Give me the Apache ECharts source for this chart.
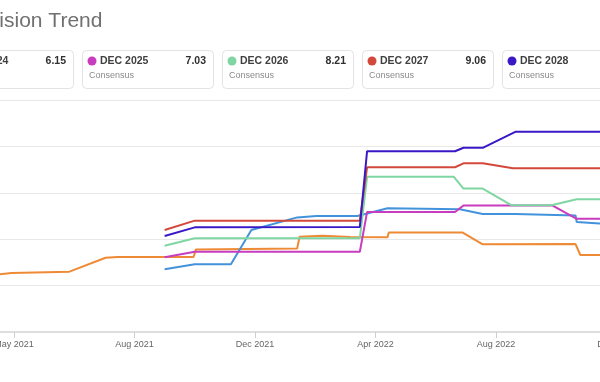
<!DOCTYPE html>
<html>
<head>
<meta charset="utf-8">
<script src="https://cdn.jsdelivr.net/npm/echarts@6/dist/echarts.min.js"></script>
<style>
html,body{margin:0;padding:0;background:#fff;}
#chart{width:600px;height:382px;}
</style>
</head>
<body>
<div id="chart"></div>
<script>
// x positions are in axis-label steps (0 = May 2021, 1 = Aug 2021, ...)
const xLabels = ['', 'May 2021', 'Aug 2021', 'Dec 2021', 'Apr 2022', 'Aug 2022', 'Dec 2022'];
const xLabelStart = -1;

const seriesNames = ['DEC 2023', 'DEC 2024', 'DEC 2025', 'DEC 2026', 'DEC 2027', 'DEC 2028'];
const seriesColors = ['#ee8a35', '#4393dc', '#c83cc0', '#7fd6a2', '#d2493b', '#3b18c6'];

const dec2023 = [[-0.12,2.49],[-0.02,2.54],[0.46,2.60],[0.76,3.20],[0.86,3.23],[1.49,3.23],[1.51,3.56],
  [2.35,3.60],[2.37,4.11],[2.56,4.15],[2.79,4.09],[3.10,4.08],[3.11,4.29],[3.72,4.29],[3.89,3.78],
  [4.66,3.79],[4.70,3.32],[5.00,3.32]];
const dec2024 = [[1.25,2.70],[1.50,2.92],[1.80,2.92],[1.97,4.40],[2.35,4.94],[2.51,5.00],[2.85,5.00],
  [3.10,5.33],[3.70,5.29],[3.89,5.09],[4.16,5.09],[4.66,5.02],[4.67,4.74],[4.86,4.68],[5.00,4.63]];
const dec2025 = [[1.25,3.22],[1.50,3.46],[2.87,3.46],[2.93,5.17],[3.66,5.17],[3.73,5.45],[4.47,5.45],
  [4.67,4.88],[5.00,4.88]];
const dec2026 = [[1.25,3.72],[1.50,4.04],[2.87,4.04],[2.93,6.69],[3.65,6.69],[3.73,6.18],[3.89,6.18],
  [4.13,5.46],[4.46,5.46],[4.67,5.72],[5.00,5.72]];
const dec2027 = [[1.25,4.40],[1.50,4.80],[2.87,4.80],[2.93,7.10],[3.66,7.10],[3.73,7.27],[3.89,7.27],
  [4.14,7.06],[5.00,7.06]];
const dec2028 = [[1.25,4.14],[1.50,4.51],[2.87,4.53],[2.93,7.79],[3.66,7.79],[3.73,7.94],[3.89,7.94],
  [4.16,8.63],[5.00,8.63]];
const seriesData = [dec2023, dec2024, dec2025, dec2026, dec2027, dec2028];

const cardNames = ['DEC 2024', 'DEC 2025', 'DEC 2026', 'DEC 2027', 'DEC 2028'];
const cardValues = ['6.15', '7.03', '8.21', '9.06', '10.31'];
const cardColors = ['#4393dc', '#c83cc0', '#7fd6a2', '#d2493b', '#3b18c6'];
const cardSubtitle = 'Consensus';
const titleText = 'Revision Trend';

const FONT = '"Liberation Sans", Arial, sans-serif';

const chart = echarts.init(document.getElementById('chart'), null, {renderer: 'canvas'});

const graphics = [{
  type: 'text', x: -38, y: 21,
  style: {text: titleText, fontSize: 21, fontFamily: FONT, fill: '#707070',
    align: 'left', verticalAlign: 'middle'}
}];
cardNames.forEach((name, i) => {
  const x0 = -58 + 140 * i;
  graphics.push({
    type: 'group', x: x0, y: 50,
    children: [
      {type: 'rect', shape: {x: 0.5, y: 0.5, width: 131, height: 38, r: 4},
        style: {fill: '#fff', stroke: '#e3e3e3', lineWidth: 1}},
      {type: 'circle', shape: {cx: 10, cy: 11, r: 4.5}, style: {fill: cardColors[i]}},
      {type: 'text', x: 18, y: 11, style: {text: name, fontSize: 10.5, fontWeight: 'bold',
        fontFamily: FONT, fill: '#404040', align: 'left', verticalAlign: 'middle'}},
      {type: 'text', x: 124, y: 11, style: {text: cardValues[i], fontSize: 10.5, fontWeight: 'bold',
        fontFamily: FONT, fill: '#303030', align: 'right', verticalAlign: 'middle'}},
      {type: 'text', x: 7, y: 26, style: {text: cardSubtitle, fontSize: 9,
        fontFamily: FONT, fill: '#8a8a8a', align: 'left', verticalAlign: 'middle'}}
    ]
  });
});

chart.setOption({
  animation: false,
  backgroundColor: '#fff',
  grid: {left: -106.5, right: -16.5, top: 100, bottom: 50, containLabel: false,
    outerBoundsMode: 'none'},
  xAxis: {
    type: 'value', min: -1, max: 5, interval: 1,
    axisLine: {show: true, onZero: false, lineStyle: {color: '#dedede', width: 2}},
    axisTick: {show: true, length: 6, lineStyle: {color: '#cfcfcf'}},
    axisLabel: {
      margin: 8, fontSize: 9, fontFamily: FONT, color: '#666',
      showMinLabel: true, showMaxLabel: true,
      formatter: v => xLabels[Math.round(v) - xLabelStart] || ''
    },
    splitLine: {show: false}
  },
  yAxis: {
    type: 'value', min: 0, max: 10, interval: 2,
    axisLine: {show: false}, axisTick: {show: false}, axisLabel: {show: false},
    splitLine: {lineStyle: {color: '#e8e8e8', width: 1}}
  },
  series: seriesNames.map((n, i) => ({
    name: n, type: 'line', data: seriesData[i], showSymbol: false, symbol: 'none',
    lineStyle: {color: seriesColors[i], width: 2}, itemStyle: {color: seriesColors[i]},
    clip: false
  })),
  graphic: graphics
});
</script>
</body>
</html>
